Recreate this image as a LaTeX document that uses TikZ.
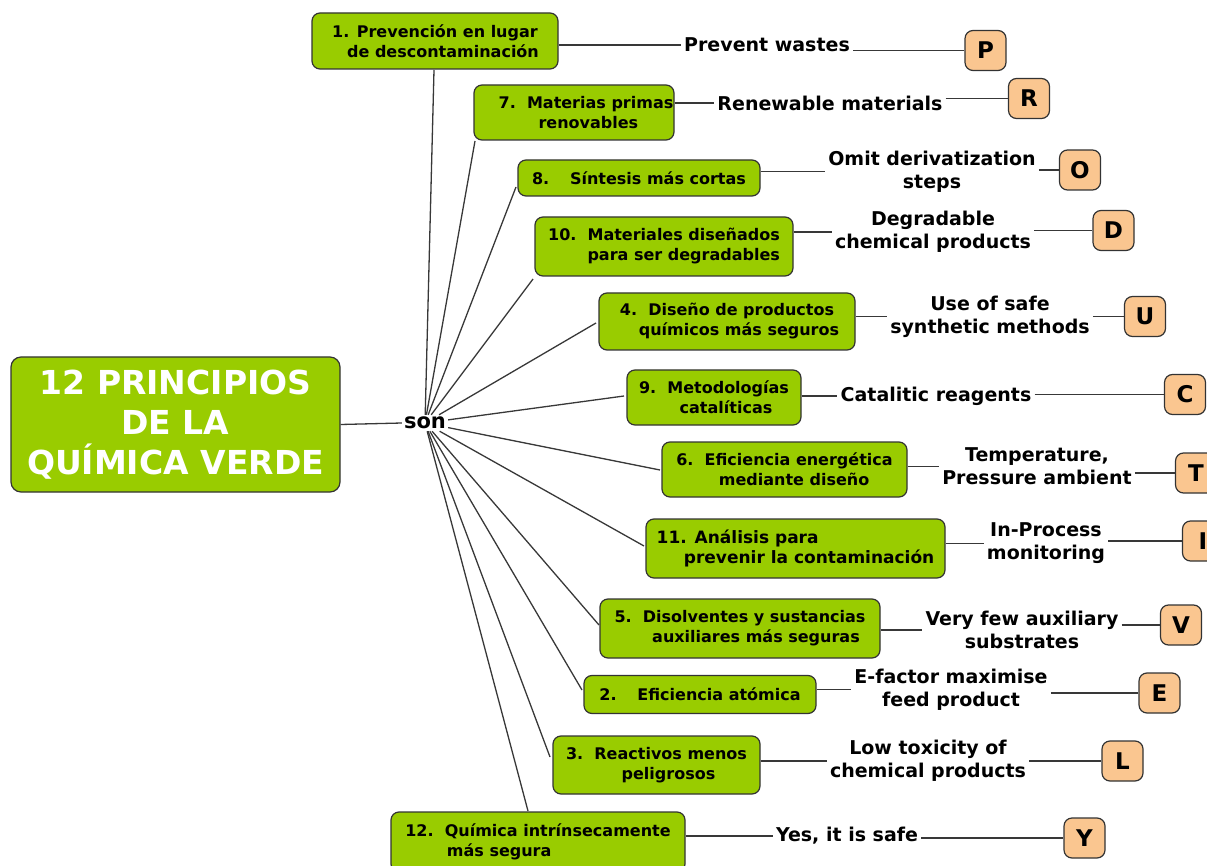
\documentclass[tikz,border=0pt]{standalone}
\usepackage{fontspec}
\setmainfont{DejaVu Sans}
\definecolor{gfill}{HTML}{99CC00}
\definecolor{bord}{HTML}{333333}
\definecolor{ofill}{HTML}{FAC690}
\definecolor{lcol}{HTML}{383838}
\tikzset{
  gbox/.style={draw=bord, fill=gfill, rounded corners=8pt, line width=1.2pt, inner sep=0pt,
    align=center, text=black, font=\bfseries\fontsize{16}{20}\selectfont},
  mainbox/.style={draw=bord, fill=gfill, rounded corners=10pt, line width=1.2pt, inner sep=0pt,
    align=center, text=white, font=\bfseries\fontsize{33}{40}\selectfont,
    minimum width=329pt, minimum height=135pt},
  lbox/.style={draw=bord, fill=ofill, rounded corners=8pt, line width=1.2pt,
    minimum width=41pt, minimum height=40pt, inner sep=0pt,
    font=\bfseries\fontsize{23}{23}\selectfont},
  lab/.style={inner sep=3pt, align=center, text=black, font=\bfseries\fontsize{19}{23}\selectfont},
  conn/.style={draw=lcol, line width=1.3pt},
}
\begin{document}
\begin{tikzpicture}[x=1pt,y=-1pt]
\useasboundingbox (0,0) rectangle (1207,866);
% main
\node[mainbox] (main) at (175.5,424.5) {12 PRINCIPIOS\\DE LA\\QUÍMICA VERDE};
\node[inner sep=2pt, font=\bfseries\fontsize{21}{21}\selectfont] (son) at (425,423) {son};
\draw[conn] (main.east) -- (son.west);
% green boxes
\node[gbox, minimum width=246pt, minimum height=56pt] (g1) at (435,41) {1. Prevención en lugar\\\hspace*{1em}de descontaminación};
\node[gbox, minimum width=200pt, minimum height=55pt] (g7) at (574,112.5) {\hspace*{1.5em}7.\ \ Materias primas\\\hspace*{1.8em}renovables};
\node[gbox, minimum width=242pt, minimum height=36pt] (g8) at (639,178) {8.\hspace{1.3em}Síntesis más cortas};
\node[gbox, minimum width=258pt, minimum height=59pt, align=right] (g10) at (664,246.5) {10.\ \ Materiales diseñados\\para ser degradables};
\node[gbox, minimum width=256pt, minimum height=57pt] (g4) at (727,321.5) {4.\ \ Diseño de productos\\\hspace*{1.5em}químicos más seguros};
\node[gbox, minimum width=174pt, minimum height=55pt] (g9) at (714,397.5) {9.\ \ Metodologías\\\hspace*{1.5em}catalíticas};
\node[gbox, minimum width=245pt, minimum height=55pt] (g6) at (784.5,469.5) {6.\ \ Eficiencia energética\\\hspace*{1.2em}mediante diseño};
\node[gbox, minimum width=299pt, minimum height=59pt, align=left, font=\bfseries\fontsize{17}{20}\selectfont] (g11) at (795.5,548.5) {11. Análisis para\\\hspace*{1.6em}prevenir la contaminación};
\node[gbox, minimum width=280pt, minimum height=59pt] (g5) at (740,628.5) {5.\ \ Disolventes y sustancias\\\hspace*{2em}auxiliares más seguras};
\node[gbox, minimum width=232pt, minimum height=38pt] (g2) at (700,694.5) {2.\hspace{1.3em}Eficiencia atómica};
\node[gbox, minimum width=207pt, minimum height=58pt] (g3) at (656.5,765) {3.\ \ Reactivos menos\\\hspace*{1.5em}peligrosos};
\node[gbox, minimum width=294pt, minimum height=60pt, align=left] (g12) at (538,842) {12.\ \ Química intrínsecamente\\\hspace*{2.6em}más segura};
% attachment points on the boxes
\coordinate (e1) at (434,70);
\coordinate (e7) at (475,141);
\coordinate (e8) at (516,187);
\coordinate (e10) at (533,279);
\coordinate (e4) at (596,323);
\coordinate (e9) at (624,396);
\coordinate (e6) at (660,470);
\coordinate (e11) at (644,546);
\coordinate (e5) at (599,625);
\coordinate (e2) at (582,690);
\coordinate (e3) at (550,757);
\coordinate (e12) at (528,811);
\foreach \e in {e1,e7,e8,e10,e4,e9,e6,e11,e5,e2,e3,e12}
  \draw[conn] (son) -- (\e);
% labels
\node[lab] (l1) at (767,45) {Prevent wastes};
\node[lab] (l7) at (830,103) {Renewable materials};
\node[lab] (l8) at (932,171.5) {Omit derivatization\\steps};
\node[lab] (l10) at (933,232) {Degradable\\chemical products};
\node[lab] (l4) at (990,316.5) {Use of safe\\synthetic methods};
\node[lab] (l9) at (936,396) {Catalitic reagents};
\node[lab] (l6) at (1037,466.5) {Temperature,\\Pressure ambient};
\node[lab] (l11) at (1046,543.5) {In-Process\\monitoring};
\node[lab] (l5) at (1022,630) {Very few auxiliary\\substrates};
\node[lab] (l2) at (951,689.5) {E-factor maximise\\feed product};
\node[lab] (l3) at (928,761) {Low toxicity of\\chemical products};
\node[lab] (l12) at (847,836) {Yes, it is safe};
% letter boxes
\node[lbox] (P) at (985.5,50.5) {P};
\node[lbox] (R) at (1029,98.5) {R};
\node[lbox] (O) at (1080,170) {O};
\node[lbox] (D) at (1113.5,230.5) {D};
\node[lbox] (U) at (1145,316.5) {U};
\node[lbox] (C) at (1185,394.5) {C};
\node[lbox] (T) at (1196,473) {T};
\node[lbox] (I) at (1203,541) {I};
\node[lbox] (V) at (1181,625) {V};
\node[lbox] (E) at (1159.5,693) {E};
\node[lbox] (L) at (1122.5,761) {L};
\node[lbox] (Y) at (1084.5,838) {Y};
% connectors
\foreach \g/\l/\k in {g1/l1/P, g7/l7/R, g8/l8/O, g10/l10/D, g4/l4/U, g9/l9/C, g6/l6/T, g11/l11/I, g5/l5/V, g2/l2/E, g3/l3/L, g12/l12/Y}{
  \draw[conn] (\l.west -| \g.east) -- (\l.west);
  \draw[conn] (\k.west -| \l.east) -- (\k.west);
}
\end{tikzpicture}
\end{document}
